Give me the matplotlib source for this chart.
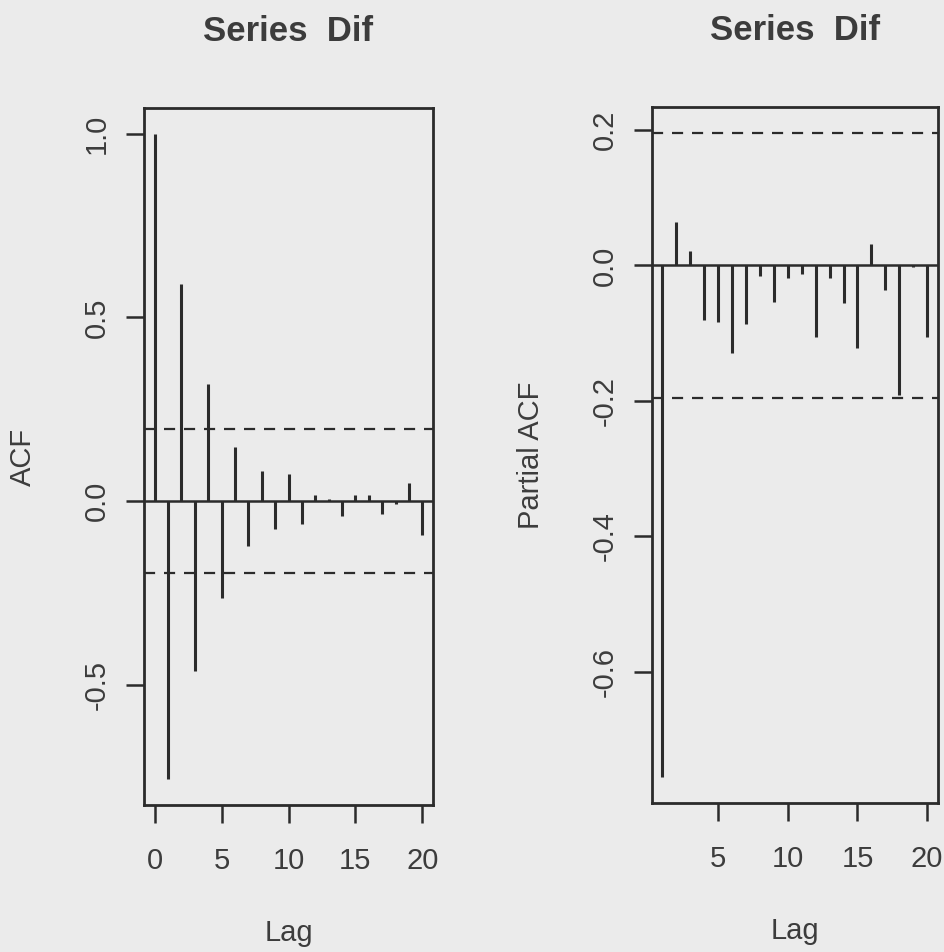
import matplotlib
matplotlib.use("Agg")
import matplotlib.pyplot as plt
import numpy as np

acf_lags = list(range(0, 21))
acf_vals = [1.0, -0.757, 0.59, -0.462, 0.318, -0.264, 0.148, -0.123, 0.081,
            -0.076, 0.073, -0.063, 0.018, 0.006, -0.04, 0.018, 0.018, -0.036,
            -0.008, 0.048, -0.091]

pacf_lags = list(range(1, 21))
pacf_vals = [-0.756, 0.064, 0.022, -0.081, -0.083, -0.13, -0.086, -0.015,
             -0.054, -0.018, -0.013, -0.105, -0.018, -0.056, -0.122, 0.031,
             -0.036, -0.192, -0.002, -0.105]

ci = 0.196
title = "Series  Dif"
acf_yticks = [-0.5, 0.0, 0.5, 1.0]
pacf_yticks = [-0.6, -0.4, -0.2, 0.0, 0.2]
acf_xticks = [0, 5, 10, 15, 20]
pacf_xticks = [5, 10, 15, 20]

bg = "#ebebeb"
ink = "#2b2b2b"
txt = "#3c3c3c"

plt.rcParams['font.family'] = ['Liberation Sans', 'DejaVu Sans']


def rrange(lo, hi):
    # R style 4% extension of the axis range
    pad = (hi - lo) * 0.04
    return lo - pad, hi + pad


def draw(ax, lags, vals, xticks, yticks, ylabel):
    ax.set_facecolor(bg)
    ax.vlines(lags, 0, vals, color=ink, lw=2.2)
    ax.axhline(0, color=ink, lw=1.8)
    for s in (ci, -ci):
        ax.axhline(s, color=ink, lw=1.6, linestyle=(0, (5, 4)))
    ax.set_xlim(*rrange(min(lags), max(lags)))
    ax.set_ylim(*rrange(min(min(vals), -ci), max(max(vals), ci)))
    ax.set_xticks(xticks)
    ax.set_yticks(yticks)
    ax.set_yticklabels(["%.1f" % t for t in yticks])
    for sp in ax.spines.values():
        sp.set_color(ink)
        sp.set_linewidth(2.0)
    ax.tick_params(direction='out', length=13, width=1.8, color=ink,
                   labelsize=21, labelcolor=txt)
    ax.tick_params(axis='x', pad=17)
    ax.tick_params(axis='y', pad=11)
    for lab in ax.get_yticklabels():
        lab.set_rotation(90)
        lab.set_va('center')
    ax.set_xlabel("Lag", fontsize=21, color=txt, labelpad=32)
    ax.set_ylabel(ylabel, fontsize=21, color=txt, labelpad=33)
    ax.set_title(title, fontsize=25, fontweight='bold', color=txt, pad=48)


fig = plt.figure(figsize=(9.45, 9.52), dpi=100, facecolor=bg)
ax1 = fig.add_axes([0.1524, 0.1544, 0.3058, 0.7322])
ax2 = fig.add_axes([0.6897, 0.1565, 0.3026, 0.7311])

draw(ax1, acf_lags, acf_vals, acf_xticks, acf_yticks, "ACF")
draw(ax2, pacf_lags, pacf_vals, pacf_xticks, pacf_yticks, "Partial ACF")

fig.savefig("out.png", dpi=100, facecolor=bg)
